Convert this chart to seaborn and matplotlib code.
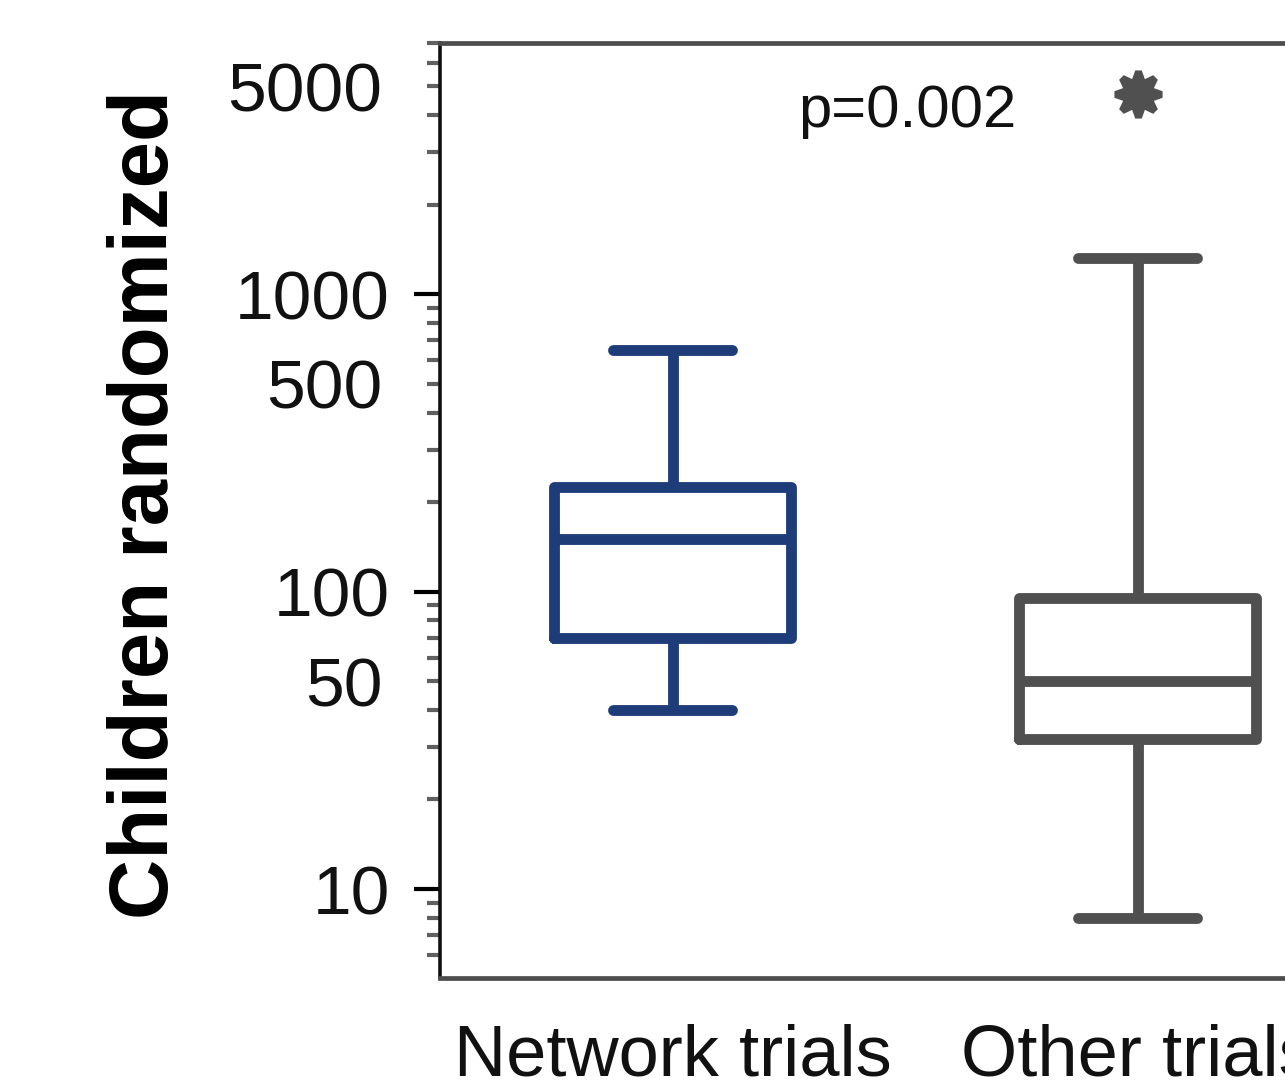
import numpy as np
import pandas as pd
import matplotlib
matplotlib.use("Agg")
import matplotlib.pyplot as plt
from matplotlib.ticker import LogLocator, FuncFormatter
import seaborn as sns

sns.set_style("ticks")
plt.rcParams['font.family'] = ['Liberation Sans', 'DejaVu Sans']

# five-number summaries: min, q1, median, q3, max
groups = ["Network trials", "Other trials"]
network_summary = [40, 70, 150, 225, 650]
other_summary = [8, 32, 50, 95, 1320]
other_outlier = 4700
p_text = "p=0.002"
ylabel = "Children randomized"

BLUE = "#1d3c78"
GREY = "#505050"


def label_fmt(v, pos):
    # only 10, 50, 100, 500, 1000, 5000 get a label
    if v < 9.5:
        return ""
    lead = v / 10 ** np.floor(np.log10(v) + 1e-9)
    if round(lead) in (1, 5):
        return f"{v:g}"
    return ""


df = pd.DataFrame({
    "group": [groups[0]] * len(network_summary) + [groups[1]] * len(other_summary),
    "n": network_summary + other_summary,
})

fig = plt.figure(figsize=(12.85, 10.86), dpi=100)
ax = fig.add_axes([440 / 1285, 1 - 978 / 1086, 930 / 1285, 935 / 1086])

sns.boxplot(data=df, x="group", y="n", hue="group", palette=[BLUE, GREY],
            fill=False, width=0.51, whis=(0, 100), linewidth=7.8,
            log_scale=True, legend=False, ax=ax)

# the outlier star above the other trials box
ax.plot(groups.index("Other trials"), other_outlier, marker=(8, 1, 0),
        markersize=33, markeredgewidth=5, color=GREY, linestyle="none")

ax.set_ylim(5.02, 7000)
ax.set_xlim(-0.5, 1.5)

ax.yaxis.set_major_locator(LogLocator(base=10))
ax.yaxis.set_minor_locator(LogLocator(base=10, subs=np.arange(2, 10)))
ax.yaxis.set_major_formatter(FuncFormatter(label_fmt))
ax.yaxis.set_minor_formatter(FuncFormatter(label_fmt))

ax.tick_params(axis="y", which="major", length=19, width=3, pad=17,
               labelsize=50, color="black", labelcolor="#111111")
ax.tick_params(axis="y", which="minor", length=9.5, width=3, pad=32,
               labelsize=50, color="#606060", labelcolor="#111111")
ax.tick_params(axis="x", length=0, pad=33, labelsize=52, labelcolor="#111111")

for side in ["top", "bottom", "right"]:
    ax.spines[side].set_color("#4d4d4d")
    ax.spines[side].set_linewidth(3.4)
ax.spines["left"].set_color("#111111")
ax.spines["left"].set_linewidth(2.6)

ax.set_xlabel("")
ax.set_ylabel("")
fig.text(146 / 1285, 1 - 505 / 1086, ylabel, rotation=90, ha="center",
         va="center", fontsize=60, fontweight="bold", color="black")

fig.text(798 / 1285, 1 - 127 / 1086, p_text, ha="left", va="baseline",
         fontsize=43, color="#111111")

fig.savefig("out.png", dpi=100, facecolor="white")
